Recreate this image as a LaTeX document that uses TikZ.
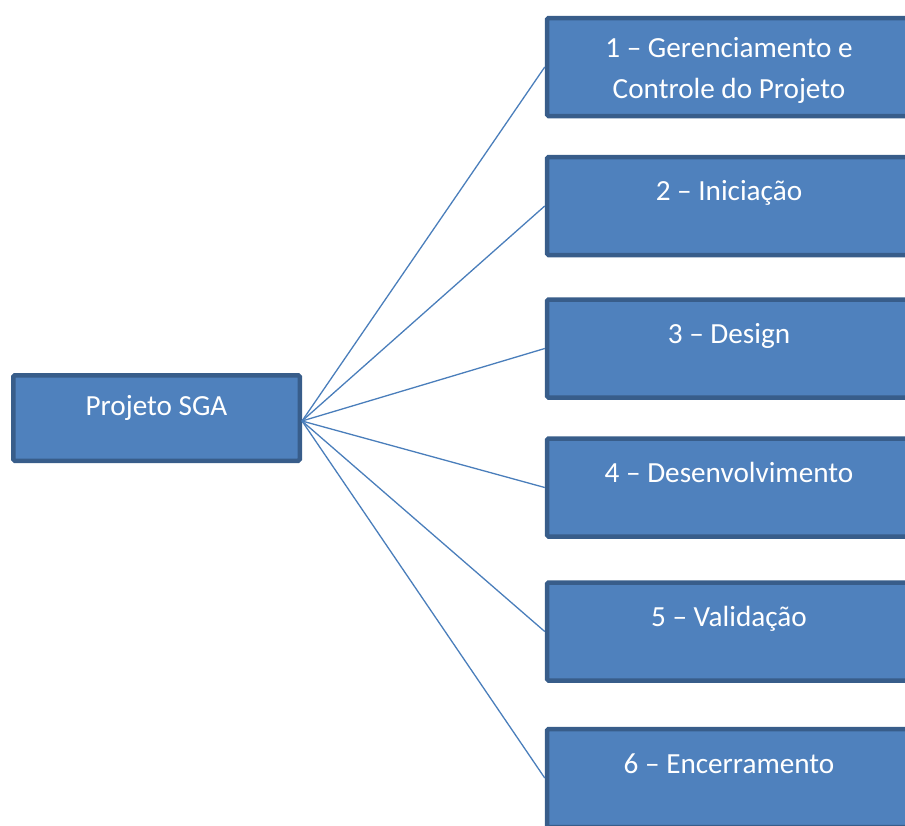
\documentclass[tikz,border=0pt]{standalone}
\usepackage{fontspec}
\setmainfont{Carlito}
\definecolor{boxfill}{HTML}{4F81BD}
\definecolor{boxedge}{HTML}{385D8A}
\definecolor{wire}{HTML}{4A7EBB}
\begin{document}
\begin{tikzpicture}[x=1pt,y=-1pt,
  wbsbox/.style={draw=boxedge,fill=boxfill,line width=4.5pt,rounded corners=1.5pt,
    rectangle,inner sep=0pt},
  leafbox/.style={wbsbox,minimum width=362pt,minimum height=98pt},
  boxtext/.style={text=white,font=\fontsize{29.2}{41}\selectfont,anchor=base,
    align=center,inner sep=0pt},
  wire/.style={draw=wire,line width=1.3pt}]
\useasboundingbox (0,0) rectangle (905,825);
\clip (0,0) rectangle (905,825);
% root
\node[wbsbox,minimum width=286.5pt,minimum height=85.5pt] (root) at (156.5,418) {};
\node[boxtext] (roott) at (156.5,415) {Projeto SGA};
% leaves
\node[leafbox] (b1) at (728,67) {};
\node[leafbox] (b2) at (728,206) {};
\node[leafbox] (b3) at (728,348.5) {};
\node[leafbox] (b4) at (728,487.5) {};
\node[leafbox] (b5) at (728,631.5) {};
\node[leafbox] (b6) at (728,778) {};
\node[boxtext] (t1) at (729,98) {1 – Gerenciamento e\\Controle do Projeto};
\node[boxtext] (t2) at (729,200) {2 – Iniciação};
\node[boxtext] (t3) at (729,343) {3 – Design};
\node[boxtext] (t4) at (729,482) {4 – Desenvolvimento};
\node[boxtext] (t5) at (729,626) {5 – Validação};
\node[boxtext] (t6) at (729,773) {6 – Encerramento};
% connectors
\coordinate (hub) at ([yshift=-3pt]root.east);
\foreach \b in {b1,b2,b3,b4,b5,b6}
  \draw[wire] (hub) -- (\b.west);
\end{tikzpicture}
\end{document}
